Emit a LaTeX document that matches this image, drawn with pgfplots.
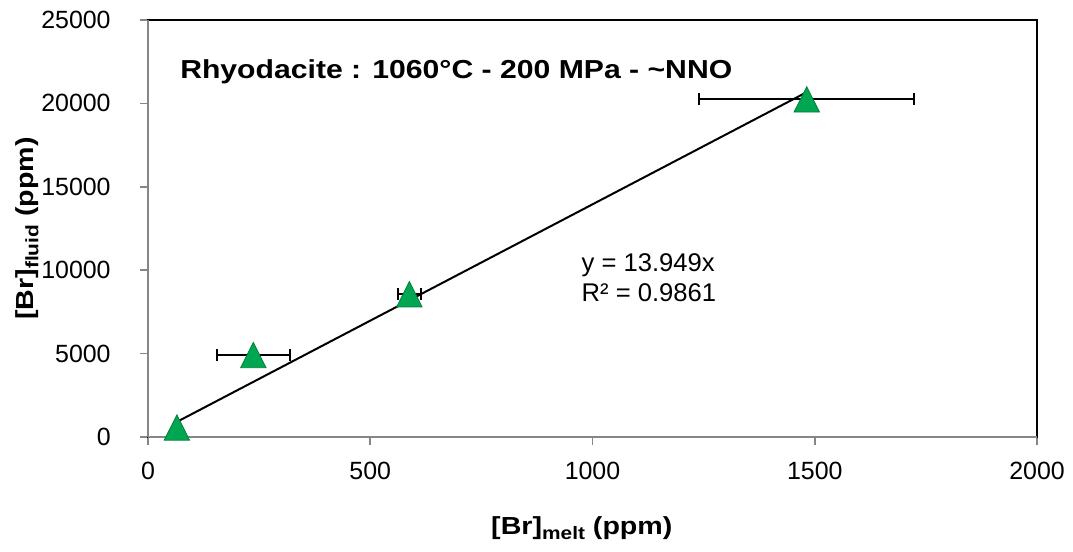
\documentclass[border=0pt]{standalone}
\usepackage{pgfplots}
\pgfplotsset{compat=1.18}
\usepackage{fontspec}
\setmainfont{Liberation Sans}
\newfontface\bstretch{Liberation Sans Bold}[FakeStretch=1.16]
\definecolor{mkfill}{RGB}{0,166,81}
\definecolor{mkedge}{RGB}{0,128,56}
\definecolor{axgray}{RGB}{134,134,134}
\newcommand\lsub[1]{\raisebox{-0.2em}{\fontsize{13.5}{14}\selectfont #1}}
\begin{document}
\begin{tikzpicture}
\begin{axis}[
    scale only axis,
    width=666.75pt, height=312.75pt,
    xmin=0, xmax=2000, ymin=0, ymax=25000,
    xtick distance=500, ytick distance=5000,
    xtick pos=bottom, ytick pos=left,
    tick align=outside,
    major tick length=6pt,
    tick style={axgray, line width=1.2pt},
    axis line style={black, line width=1.1pt},
    scaled ticks=false,
    /pgf/number format/assume math mode=true,
    /pgf/number format/1000 sep={},
    ticklabel style={font=\fontsize{18.7}{22}\selectfont},
    yticklabel style={xshift=-18.5pt},
    xticklabel style={yshift=-9pt},
    xlabel={\bstretch [Br]\lsub{melt} (ppm)},
    ylabel={\bstretch [Br]\lsub{fluid} (ppm)},
    label style={font=\fontsize{18.5}{22}\selectfont},
    xlabel style={at={(axis description cs:0.488,-0.218)}, anchor=center},
    ylabel style={at={(axis description cs:-0.136,0.5)}, anchor=center},
    clip=false,
]
% gray left and bottom axis lines
\draw[axgray, line width=1.6pt] (rel axis cs:0,0) -- (rel axis cs:1,0);
\draw[axgray, line width=1.6pt] (rel axis cs:0,0) -- (rel axis cs:0,1);

\addplot[only marks, mark=triangle*, mark size=11pt,
    mark options={fill=mkfill, draw=mkedge, line width=0.6pt, yscale=1.15, yshift=-2.8pt},
    error bars/.cd, x dir=both, x explicit,
    error bar style={black, line width=1.4pt},
    error mark options={rotate=90, mark size=4.5pt, black, line width=1.4pt}]
    table[x=x, y=y, x error=ex] {
    x     y      ex
    65    570    0
    237   4916   82
    588   8561   26
    1482  20246  242
    };

% trend line y = 13.949x
\addplot[black, line width=1.5pt] coordinates {(65,906.7) (1482,20672.4)};

\node[anchor=base west, inner sep=0pt, font=\fontsize{19.5}{23}\selectfont\bstretch]
    at (axis cs:72,21505) {Rhyodacite : 1060°C - 200 MPa - \textasciitilde NNO};
\node[anchor=base west, inner sep=0pt, font=\fontsize{19.2}{23}\selectfont]
    at (axis cs:975,9910) {y = 13.949x};
\node[anchor=base west, inner sep=0pt, font=\fontsize{19.2}{23}\selectfont]
    at (axis cs:975,8094) {R² = 0.9861};
\end{axis}
\pgfresetboundingbox
\useasboundingbox (-111pt,-86.25pt) rectangle (693.75pt,327.75pt);
\end{tikzpicture}
\end{document}
